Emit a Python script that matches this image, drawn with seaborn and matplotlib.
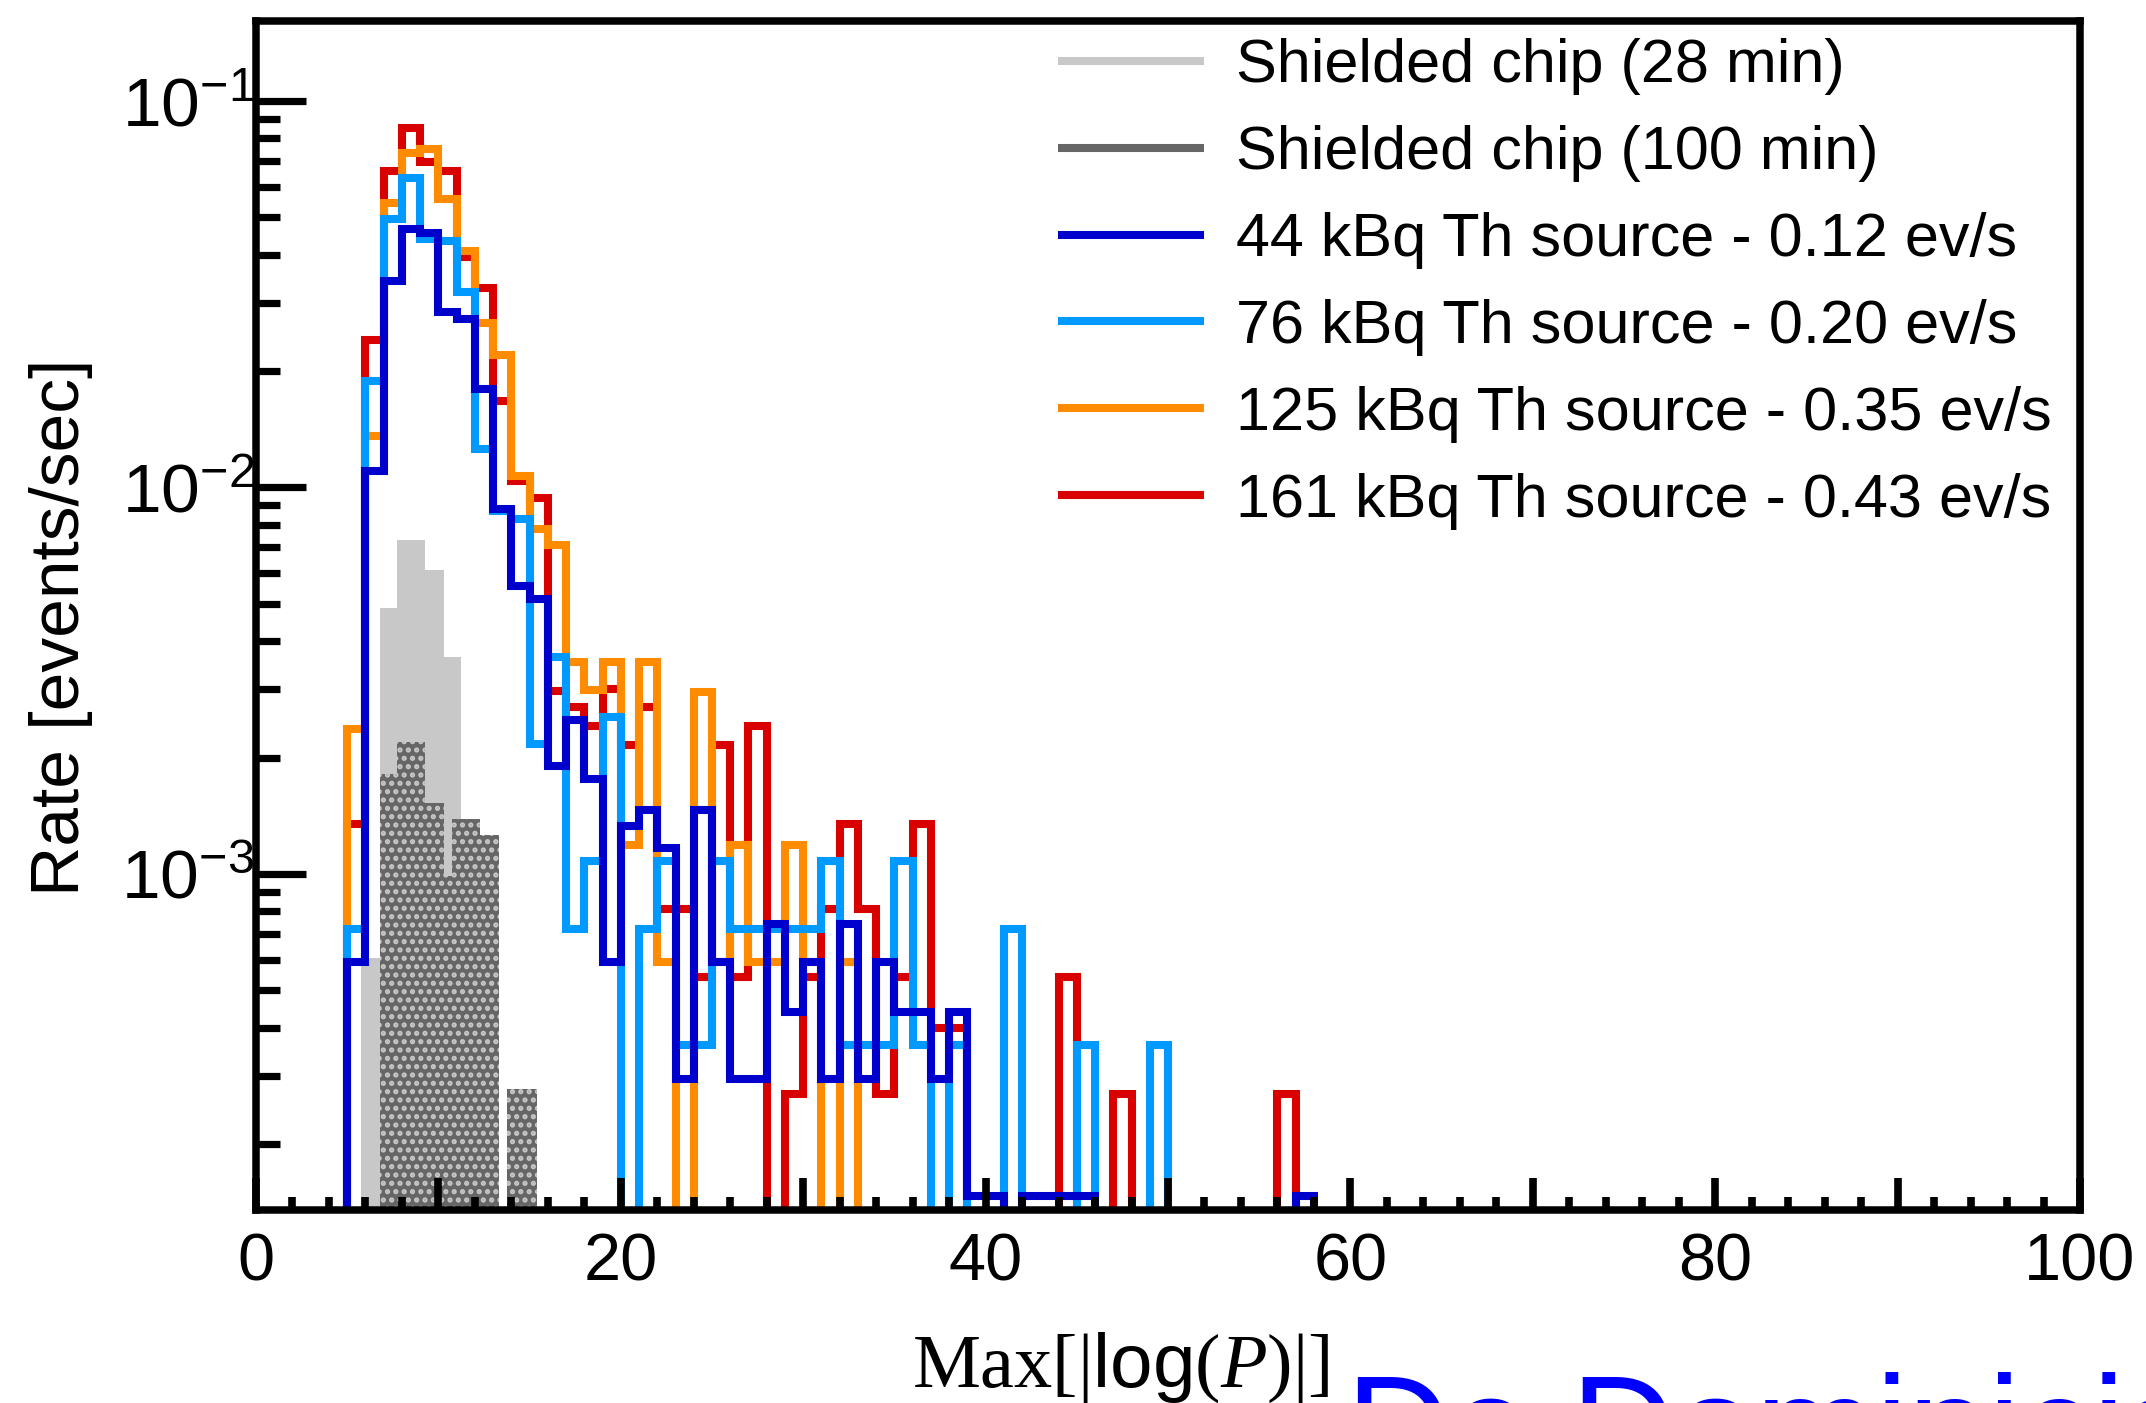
import numpy as np
import pandas as pd
import matplotlib
matplotlib.use("Agg")
import matplotlib.pyplot as plt
import seaborn as sns
from matplotlib.lines import Line2D
from matplotlib.ticker import MultipleLocator, LogLocator, NullFormatter, FuncFormatter

# ---------------- data ----------------
first_bin = 5  # lower edge of the first listed unit-width bin
th44_rate = [5.9e-4, 1.10e-2, 3.42e-2, 4.66e-2, 4.55e-2, 2.84e-2, 2.72e-2, 1.80e-2, 8.8e-3, 5.55e-3,
             5.15e-3, 1.90e-3, 2.50e-3, 1.76e-3, 5.9e-4, 1.33e-3, 1.46e-3, 1.17e-3, 2.95e-4, 1.46e-3,
             5.9e-4, 2.95e-4, 2.95e-4, 7.4e-4, 4.4e-4, 5.9e-4, 2.95e-4, 7.4e-4, 2.95e-4, 5.9e-4,
             4.4e-4, 4.4e-4, 2.95e-4, 4.4e-4, 1.47e-4, 1.47e-4, 0, 1.47e-4, 1.47e-4, 1.47e-4,
             1.47e-4, 0, 0, 0, 0, 0, 0, 0, 0, 0,
             0, 0, 1.47e-4, 0]
th76_rate = [7.2e-4, 1.89e-2, 4.94e-2, 6.3e-2, 4.4e-2, 4.35e-2, 3.21e-2, 1.26e-2, 8.7e-3, 8.3e-3,
             2.17e-3, 3.64e-3, 7.2e-4, 1.08e-3, 2.54e-3, 0, 7.2e-4, 1.08e-3, 3.6e-4, 3.6e-4,
             1.08e-3, 7.2e-4, 7.2e-4, 7.2e-4, 7.2e-4, 7.2e-4, 1.08e-3, 3.6e-4, 3.6e-4, 3.6e-4,
             1.08e-3, 3.6e-4, 0, 3.6e-4, 0, 0, 7.2e-4, 0, 0, 0,
             3.6e-4, 0, 0, 0, 3.6e-4, 0, 0, 0, 0, 0,
             0, 0, 0, 0]
th125_rate = [2.37e-3, 1.36e-2, 5.43e-2, 7.35e-2, 7.53e-2, 5.59e-2, 4.10e-2, 2.67e-2, 2.20e-2, 1.07e-2,
              7.8e-3, 7.1e-3, 3.54e-3, 2.99e-3, 3.54e-3, 1.19e-3, 3.54e-3, 5.9e-4, 0, 2.95e-3,
              5.9e-4, 1.19e-3, 5.9e-4, 5.9e-4, 1.19e-3, 5.9e-4, 0, 5.9e-4, 0, 0,
              0, 0, 0, 0, 0, 0, 0, 0, 0, 0,
              0, 0, 0, 0, 0, 0, 0, 0, 0, 0,
              0, 0, 0, 0]
th161_rate = [1.35e-3, 2.40e-2, 6.60e-2, 8.53e-2, 6.94e-2, 6.60e-2, 3.95e-2, 3.28e-2, 1.67e-2, 1.04e-2,
              9.4e-3, 2.98e-3, 2.7e-3, 2.42e-3, 3.0e-3, 2.15e-3, 2.7e-3, 8.1e-4, 8.1e-4, 5.4e-4,
              2.15e-3, 5.4e-4, 2.42e-3, 0, 2.7e-4, 5.4e-4, 8.1e-4, 1.35e-3, 8.1e-4, 2.7e-4,
              5.4e-4, 1.35e-3, 4.0e-4, 4.0e-4, 0, 0, 0, 0, 0, 5.4e-4,
              0, 0, 2.7e-4, 0, 0, 0, 0, 0, 0, 0,
              0, 2.7e-4, 0, 0]

shield28_edges = [5.77, 6.78, 7.73, 9.29, 10.29, 11.26]
shield28_rate = [6.07e-4, 4.87e-3, 7.31e-3, 6.10e-3, 3.64e-3]
shield100_edges = [6.78, 7.73, 9.29, 10.29, 10.75, 12.27, 13.32, 13.74, 15.38]
shield100_rate = [1.81e-3, 2.20e-3, 1.53e-3, 9.86e-4, 1.39e-3, 1.26e-3, 0, 2.78e-4]

labels = ["Shielded chip (28 min)", "Shielded chip (100 min)",
          "44 kBq Th source - 0.12 ev/s", "76 kBq Th source - 0.20 ev/s",
          "125 kBq Th source - 0.35 ev/s", "161 kBq Th source - 0.43 ev/s"]
colors = ["#c8c8c8", "#666666", "#0000cc", "#0099ff", "#ff8c00", "#d90000"]

# ---------------- style ----------------
sns.set_theme(style="white")
plt.rcParams["font.family"] = ["Liberation Sans", "DejaVu Sans"]
plt.rcParams["text.color"] = "black"
plt.rcParams["axes.labelcolor"] = "black"
plt.rcParams["xtick.color"] = "black"
plt.rcParams["ytick.color"] = "black"
plt.rcParams["mathtext.fontset"] = "custom"
plt.rcParams["mathtext.rm"] = "Liberation Serif"
plt.rcParams["mathtext.it"] = "Liberation Serif:italic"
plt.rcParams["mathtext.sf"] = "Liberation Sans"
plt.rcParams["hatch.linewidth"] = 2.5
plt.rcParams["hatch.color"] = "#c8c8c8"

W, H = 2146, 1403
fig = plt.figure(figsize=(W / 100, H / 100), dpi=100)
fig.patch.set_facecolor("white")
ax_l, ax_r, ax_t, ax_b = 256, 2080, 21, 1210
ax = fig.add_axes([ax_l / W, 1 - ax_b / H, (ax_r - ax_l) / W, (ax_b - ax_t) / H])
ax.set_facecolor("white")
ax.set_yscale("log")

LW = 5.8

# shielded chips: filled histograms
df28 = pd.DataFrame({"x": [(a + b) / 2 for a, b in zip(shield28_edges[:-1], shield28_edges[1:])],
                     "w": shield28_rate})
sns.histplot(data=df28, x="x", weights="w", bins=list(shield28_edges), element="bars", fill=True,
             color=colors[0], edgecolor=colors[0], linewidth=0, alpha=1, ax=ax, zorder=1.0)
df100 = pd.DataFrame({"x": [(a + b) / 2 for a, b in zip(shield100_edges[:-1], shield100_edges[1:])],
                      "w": shield100_rate})
sns.histplot(data=df100, x="x", weights="w", bins=list(shield100_edges), element="bars", fill=True,
             color=colors[1], edgecolor="#c8c8c8", hatch="..", linewidth=0, alpha=1, ax=ax, zorder=1.1)

# Th source runs: step outlines
edges = [float(e) for e in range(0, 101)]
centers = [e + 0.5 for e in edges[:-1]]


def full_rate(vals):
    out = [0.0] * 100
    for i, v in enumerate(vals):
        out[first_bin + i] = v
    return out


for vals, col, z in [(th161_rate, colors[5], 1.2), (th125_rate, colors[4], 1.3),
                     (th76_rate, colors[3], 1.4), (th44_rate, colors[2], 1.5)]:
    df = pd.DataFrame({"x": centers, "w": full_rate(vals)})
    sns.histplot(data=df, x="x", weights="w", bins=edges, element="step", fill=False,
                 color=col, linewidth=LW, ax=ax, zorder=z,
                 solid_joinstyle="miter", solid_capstyle="butt")

ax.set_xlim(0, 100)
ax.set_ylim(1.35e-4, 0.161)
ax.set_xlabel("")
ax.set_ylabel("")
ax.set_axisbelow(False)

for s in ax.spines.values():
    s.set_visible(True)
    s.set_color("black")
    s.set_linewidth(5.4)
    s.set_zorder(3)

ax.xaxis.set_major_locator(MultipleLocator(10))
ax.xaxis.set_minor_locator(MultipleLocator(2))
ax.xaxis.set_major_formatter(FuncFormatter(lambda v, p: f"{int(round(v))}" if round(v) % 20 == 0 else ""))
ax.yaxis.set_major_locator(LogLocator(base=10, numticks=10))
ax.yaxis.set_minor_locator(LogLocator(base=10, subs=np.arange(2, 10), numticks=20))
ax.yaxis.set_minor_formatter(NullFormatter())

ax.tick_params(axis="x", which="major", direction="in", length=23, width=5.5, pad=16,
               labelsize=48, bottom=True, top=False, colors="black")
ax.tick_params(axis="x", which="minor", direction="in", length=9.5, width=5.5,
               bottom=True, top=False, colors="black")
ax.tick_params(axis="y", which="major", direction="in", length=36, width=5.2, pad=1,
               labelsize=50, left=True, right=False, colors="black")
ax.tick_params(axis="y", which="minor", direction="in", length=17.5, width=5.2,
               left=True, right=False, colors="black")

# legend
handles = [Line2D([], [], color=c, linewidth=LW, solid_capstyle="butt") for c in colors]
ax.legend(handles, labels, loc="upper left", bbox_to_anchor=(0.4397, 0.9857), frameon=False,
          fontsize=44, handlelength=2.39, handletextpad=0.52, labelspacing=0.49,
          borderaxespad=0, borderpad=0, labelcolor="black")

# axis titles
fig.text(61 / W, 1 - 627 / H, "Rate [events/sec]", rotation=90, ha="center", va="center",
         fontsize=50, color="black")
fig.text(912 / W, 1 - 1387 / H, r"$\mathrm{Max[|}\mathsf{log}\mathrm{(}P\mathrm{)|]}$",
         ha="left", va="baseline", fontsize=55, color="black")
fig.text(1346 / W, 1 - 1477 / H, "De Dominicis", ha="left", va="baseline",
         fontsize=104, color="#0000ff")

fig.savefig("out.png", dpi=100)
